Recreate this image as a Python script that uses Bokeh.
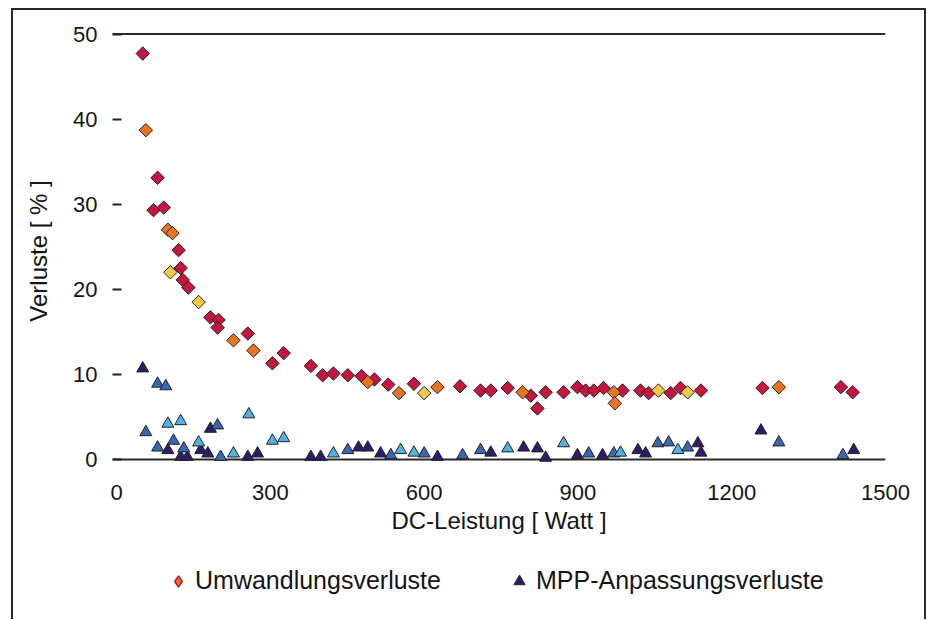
import numpy as np
import pandas as pd
from bokeh.plotting import figure
from bokeh.layouts import column
from bokeh.models import ColumnDataSource, Range1d, FixedTicker, Span, Legend, LegendItem
from bokeh.embed import file_html
from bokeh.resources import INLINE

# ---------------- data ----------------
x_ticks = [0, 300, 600, 900, 1200, 1500]
y_ticks = [0, 10, 20, 30, 40, 50]

series_names = ["Umwandlungsverluste", "MPP-Anpassungsverluste"]

# Umwandlungsverluste (DC-Leistung [W], Verluste [%], Gruppe)
umw_x = [51, 57, 80, 72, 92, 100, 109, 121, 105, 125, 129, 140, 160, 183, 199, 197,
         228, 256, 267, 304, 326, 379, 402, 423, 451, 478, 490, 503, 530, 551, 580,
         600, 626, 670, 710, 730, 763, 792, 808, 821, 837, 872, 899, 915, 931, 950,
         970, 972, 987, 1022, 1038, 1057, 1081, 1100, 1114, 1140, 1260, 1292, 1413, 1436]
umw_y = [47.7, 38.7, 33.1, 29.3, 29.6, 27.0, 26.6, 24.6, 22.0, 22.5, 21.1, 20.2, 18.5,
         16.7, 16.4, 15.5, 14.0, 14.8, 12.8, 11.3, 12.5, 11.0, 9.9, 10.1, 9.9, 9.8, 9.1,
         9.4, 8.8, 7.8, 8.9, 7.8, 8.5, 8.6, 8.1, 8.1, 8.4, 7.9, 7.5, 6.0, 7.9, 7.9, 8.5,
         8.1, 8.1, 8.4, 7.9, 6.6, 8.1, 8.1, 7.8, 8.1, 7.8, 8.4, 7.9, 8.1, 8.4, 8.5, 8.5, 7.9]
umw_grp = ["A", "B", "A", "A", "A", "B", "B", "A", "C", "A", "A", "A", "C", "A", "A", "A",
           "B", "A", "B", "A", "A", "A", "A", "A", "A", "A", "B", "A", "A", "B", "A",
           "C", "B", "A", "A", "A", "A", "B", "A", "A", "A", "A", "A", "A", "A", "A",
           "B", "B", "A", "A", "A", "C", "A", "A", "C", "A", "A", "B", "A", "A"]

# MPP-Anpassungsverluste
mpp_x = [51, 80, 96, 57, 100, 125, 183, 197, 258, 80, 100, 111, 131, 125, 138, 160, 164,
         178, 203, 228, 256, 275, 304, 326, 379, 398, 423, 451, 472, 490, 515, 535, 554,
         580, 600, 626, 675, 710, 730, 763, 794, 821, 837, 872, 899, 921, 948, 970, 983,
         1017, 1032, 1056, 1077, 1095, 1114, 1134, 1140, 1257, 1292, 1417, 1438]
mpp_y = [10.7, 8.9, 8.6, 3.2, 4.2, 4.5, 3.6, 4.0, 5.3, 1.4, 1.1, 2.2, 1.3, 0.3, 0.3, 2.0,
         1.1, 0.7, 0.3, 0.7, 0.3, 0.7, 2.2, 2.5, 0.3, 0.3, 0.7, 1.1, 1.4, 1.4, 0.7, 0.5,
         1.1, 0.8, 0.7, 0.3, 0.5, 1.1, 0.8, 1.3, 1.4, 1.3, 0.2, 1.9, 0.5, 0.7, 0.5, 0.7,
         0.8, 1.1, 0.7, 1.9, 2.0, 1.1, 1.4, 1.9, 0.8, 3.4, 2.0, 0.5, 1.1]
mpp_grp = ["A", "B", "B", "B", "C", "C", "A", "B", "C", "B", "A", "B", "B", "A", "A", "C",
           "A", "A", "B", "C", "A", "A", "C", "C", "A", "A", "C", "B", "A", "A", "A", "B",
           "C", "C", "B", "A", "B", "B", "A", "C", "A", "A", "A", "C", "A", "B", "A", "B",
           "C", "A", "A", "B", "B", "C", "B", "A", "A", "A", "B", "B", "A"]

# ---------------- styles ----------------
FONT = "Liberation Sans"
TXT = "#151515"
EDGE = "#222222"
umw_colors = {"A": "#c4163f", "B": "#e8741f", "C": "#f3c94a"}
mpp_colors = {"A": "#2c1c6a", "B": "#3b66b2", "C": "#52b3e2"}

W = 911
p = figure(width=W, height=540, output_backend="svg", toolbar_location=None,
           x_range=Range1d(-8, 1500), y_range=Range1d(-2, 51),
           min_border_left=99, min_border_right=39, min_border_top=15,
           min_border_bottom=74)
p.background_fill_color = "white"
p.border_fill_color = "white"
p.outline_line_color = None
p.xgrid.visible = False
p.ygrid.visible = False

for loc in (0, 50):
    s = Span(location=loc, dimension="width", line_color="#2a2a2a", line_width=2,
             level="underlay")
    p.add_layout(s)

umw_df = pd.DataFrame({"x": umw_x, "y": umw_y, "g": umw_grp})
mpp_df = pd.DataFrame({"x": mpp_x, "y": mpp_y, "g": mpp_grp})

for g in ["A", "B", "C"]:
    src = ColumnDataSource(umw_df[umw_df.g == g])
    p.scatter("x", "y", source=src, marker="square", angle=np.pi / 4, size=9.5,
              fill_color=umw_colors[g], line_color=EDGE, line_width=1)
for g in ["A", "B", "C"]:
    src = ColumnDataSource(mpp_df[mpp_df.g == g])
    p.scatter("x", "y", source=src, marker="triangle", size=12,
              fill_color=mpp_colors[g], line_color=EDGE, line_width=1)

# axes
xa = p.xaxis[0]
xa.ticker = FixedTicker(ticks=x_ticks)
xa.axis_line_color = None
xa.major_tick_line_color = None
xa.minor_tick_line_color = None
xa.major_label_standoff = 2
xa.major_label_text_font = FONT
xa.major_label_text_font_size = "22px"
xa.major_label_text_color = TXT
xa.axis_label = "DC-Leistung [ Watt ]"
xa.axis_label_text_font = FONT
xa.axis_label_text_font_size = "24px"
xa.axis_label_text_font_style = "normal"
xa.axis_label_text_color = TXT
xa.axis_label_standoff = 4

ya = p.yaxis[0]
ya.ticker = FixedTicker(ticks=y_ticks)
ya.axis_line_color = None
ya.major_tick_line_color = EDGE
ya.major_tick_line_width = 2
ya.major_tick_in = 9
ya.major_tick_out = 0
ya.minor_tick_line_color = None
ya.major_label_standoff = 15
ya.major_label_text_font = FONT
ya.major_label_text_font_size = "22px"
ya.major_label_text_color = TXT
ya.axis_label = "Verluste [ % ]"
ya.axis_label_text_font = FONT
ya.axis_label_text_font_size = "24px"
ya.axis_label_text_font_style = "normal"
ya.axis_label_text_color = TXT
ya.axis_label_standoff = 18

# ---------------- legend strip ----------------
q = figure(width=W, height=69, output_backend="svg", toolbar_location=None,
           x_axis_location=None, y_axis_location=None,
           x_range=Range1d(-1e6, -1e6 + 1), y_range=Range1d(-1e6, -1e6 + 1),
           min_border=0)
q.background_fill_color = "white"
q.border_fill_color = "white"
q.outline_line_color = None
q.xgrid.visible = False
q.ygrid.visible = False
k1 = q.scatter(umw_x, umw_y, marker="diamond", size=12, fill_color=umw_colors["B"],
               line_color=umw_colors["A"], line_width=1.5)
k2 = q.scatter(mpp_x, mpp_y, marker="triangle", size=12, fill_color=mpp_colors["A"],
               line_color=EDGE, line_width=1)

legend = Legend(items=[LegendItem(label=series_names[0], renderers=[k1]),
                       LegendItem(label=series_names[1], renderers=[k2])],
                orientation="horizontal", location=(52, 24),
                border_line_color=None, background_fill_alpha=0,
                label_text_font=FONT, label_text_font_size="25px",
                label_text_color=TXT, glyph_width=28, glyph_height=28,
                spacing=64, label_standoff=3, margin=0, padding=5)
q.add_layout(legend, "center")

lay = column(p, q, spacing=0)
lay.styles = {"border-top": "2px solid #2a2a2a", "border-left": "2px solid #2a2a2a",
              "border-right": "2px solid #2a2a2a", "margin-left": "11px",
              "margin-top": "8px"}

open("out.html", "w").write(file_html(lay, INLINE))
